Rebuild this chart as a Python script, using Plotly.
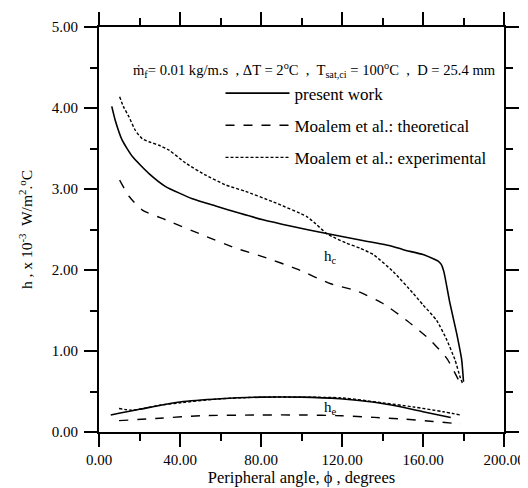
import plotly.graph_objects as go

# ---------------- data ----------------
# h_c curves (condensation side)
pw_hc_x = [6.3, 8, 11.5, 16.5, 24.7, 32.9, 46.1, 57.6, 69.6, 81, 95, 112.4, 128.9,
           143.7, 150.3, 160, 165.1, 167.5, 169, 170.3, 173.3, 176.6, 179.1, 180]
pw_hc_y = [4.02, 3.85, 3.60, 3.40, 3.19, 3.03, 2.88, 2.79, 2.70, 2.62, 2.54, 2.45, 2.37,
           2.30, 2.25, 2.19, 2.14, 2.11, 2.07, 1.98, 1.59, 1.22, 0.89, 0.62]

th_hc_x = [10.2, 14.8, 21.4, 32.9, 49.4, 67.5, 81.5, 97.9, 114.4, 127.6, 140.7, 152.3,
           163.8, 172, 177.8]
th_hc_y = [3.11, 2.91, 2.74, 2.62, 2.45, 2.27, 2.16, 2.01, 1.83, 1.74, 1.58, 1.37,
           1.13, 0.90, 0.63]

ex_hc_x = [10.2, 12, 14.8, 18, 21.4, 25, 29.6, 34.6, 42.8, 52.7, 62.6, 72.4, 86.1, 102.6,
           107, 112.4, 117, 122.3, 128.9, 135.5, 145.3, 155.2, 160, 166.7, 171.7, 175.8,
           178.3, 179.5]
ex_hc_y = [4.14, 4.02, 3.89, 3.72, 3.62, 3.58, 3.54, 3.48, 3.32, 3.17, 3.05, 2.97, 2.84, 2.66,
           2.57, 2.45, 2.39, 2.33, 2.27, 2.19, 1.98, 1.71, 1.57, 1.38, 1.14, 0.89,
           0.68, 0.60]

# h_e curves (evaporation side)
pw_he_x = [5.8, 20, 40, 60, 80, 100, 119, 135, 147, 160, 173.7]
pw_he_y = [0.21, 0.28, 0.37, 0.41, 0.43, 0.43, 0.41, 0.37, 0.32, 0.25, 0.18]

th_he_x = [9.9, 30, 50, 80, 100, 120, 136, 150, 165, 178.6]
th_he_y = [0.14, 0.17, 0.20, 0.21, 0.21, 0.20, 0.18, 0.16, 0.13, 0.10]

ex_he_x = [9.9, 16, 22, 30, 40, 60, 80, 100, 120, 140, 155, 170, 178.6]
ex_he_y = [0.29, 0.27, 0.29, 0.33, 0.36, 0.41, 0.43, 0.43, 0.42, 0.36, 0.31, 0.25, 0.21]

series_names = ["present work", "Moalem et al.: theoretical", "Moalem et al.: experimental"]

FONT = "Liberation Serif, Times New Roman, serif"
BLACK = "black"

fig = go.Figure()

styles = [
    dict(color=BLACK, width=1.6, dash="solid"),
    dict(color=BLACK, width=1.4, dash="9px,9px"),
    dict(color=BLACK, width=1.4, dash="3px,2px"),
]
hc_sets = [(pw_hc_x, pw_hc_y), (th_hc_x, th_hc_y), (ex_hc_x, ex_hc_y)]
he_sets = [(pw_he_x, pw_he_y), (th_he_x, th_he_y), (ex_he_x, ex_he_y)]

for i, name in enumerate(series_names):
    fig.add_trace(go.Scatter(
        x=hc_sets[i][0], y=hc_sets[i][1], mode="lines", name=name,
        line=dict(**styles[i], shape="spline", smoothing=0.5),
        legendgroup=f"g{i}", showlegend=True))
for i, name in enumerate(series_names):
    fig.add_trace(go.Scatter(
        x=he_sets[i][0], y=he_sets[i][1], mode="lines", name=name,
        line=dict(**styles[i], shape="spline", smoothing=0.8),
        legendgroup=f"g{i}", showlegend=False))

axis_common = dict(
    showline=True, linecolor=BLACK, linewidth=2, mirror="ticks",
    ticks="outside", ticklen=13, tickwidth=1.5, tickcolor=BLACK,
    showgrid=False, zeroline=False, automargin=False,
    tickfont=dict(family=FONT, size=15, color=BLACK),
    tickformat=".2f",
)

fig.update_xaxes(
    **axis_common, range=[0, 200], tick0=0, dtick=40,
    minor=dict(ticks="outside", ticklen=7, tickwidth=1.5, tickcolor=BLACK, dtick=20, showgrid=False),
    title=dict(text="Peripheral angle, \u03d5 , degrees", font=dict(family=FONT, size=16.5, color=BLACK),
               standoff=4),
)
fig.update_yaxes(
    **axis_common, range=[0, 5], tick0=0, dtick=1, ticklabelstandoff=3,
    minor=dict(ticks="outside", ticklen=7, tickwidth=1.5, tickcolor=BLACK, dtick=0.5, showgrid=False),
    title=dict(text="h , x 10<sup>-3</sup>  W/m<sup>2</sup>.<sup>o</sup>C",
               font=dict(family=FONT, size=15.5, color=BLACK), standoff=15),
)

fig.add_annotation(
    xref="paper", yref="paper", x=0.078, y=0.893, xanchor="left", yanchor="middle",
    showarrow=False, font=dict(family=FONT, size=14.6, color=BLACK),
    text="\u1e41<sub>f</sub>= 0.01 kg/m.s  , \u0394T = 2<sup>o</sup>C  ,  T<sub>sat,ci</sub> = 100<sup>o</sup>C  ,  D = 25.4 mm",
)
fig.add_annotation(x=110, y=2.16, xanchor="left", yanchor="middle", showarrow=False,
                   font=dict(family=FONT, size=15, color=BLACK), text="h<sub>c</sub>")
fig.add_annotation(x=110, y=0.30, xanchor="left", yanchor="middle", showarrow=False,
                   font=dict(family=FONT, size=15, color=BLACK), text="h<sub>e</sub>")

# the page adds an 8px body margin, so the figure is 520x480 to fill the 528x488 window
fig.update_layout(
    width=520, height=480,
    margin=dict(l=91, r=24, t=19, b=56, autoexpand=False),
    paper_bgcolor="white", plot_bgcolor="white",
    font=dict(family=FONT, size=15, color=BLACK),
    legend=dict(
        x=0.30, y=0.88, xanchor="left", yanchor="top",
        bgcolor="rgba(0,0,0,0)", borderwidth=0,
        font=dict(family=FONT, size=17, color=BLACK),
        itemwidth=64, tracegroupgap=7,
    ),
)

fig.write_html("out.html")
